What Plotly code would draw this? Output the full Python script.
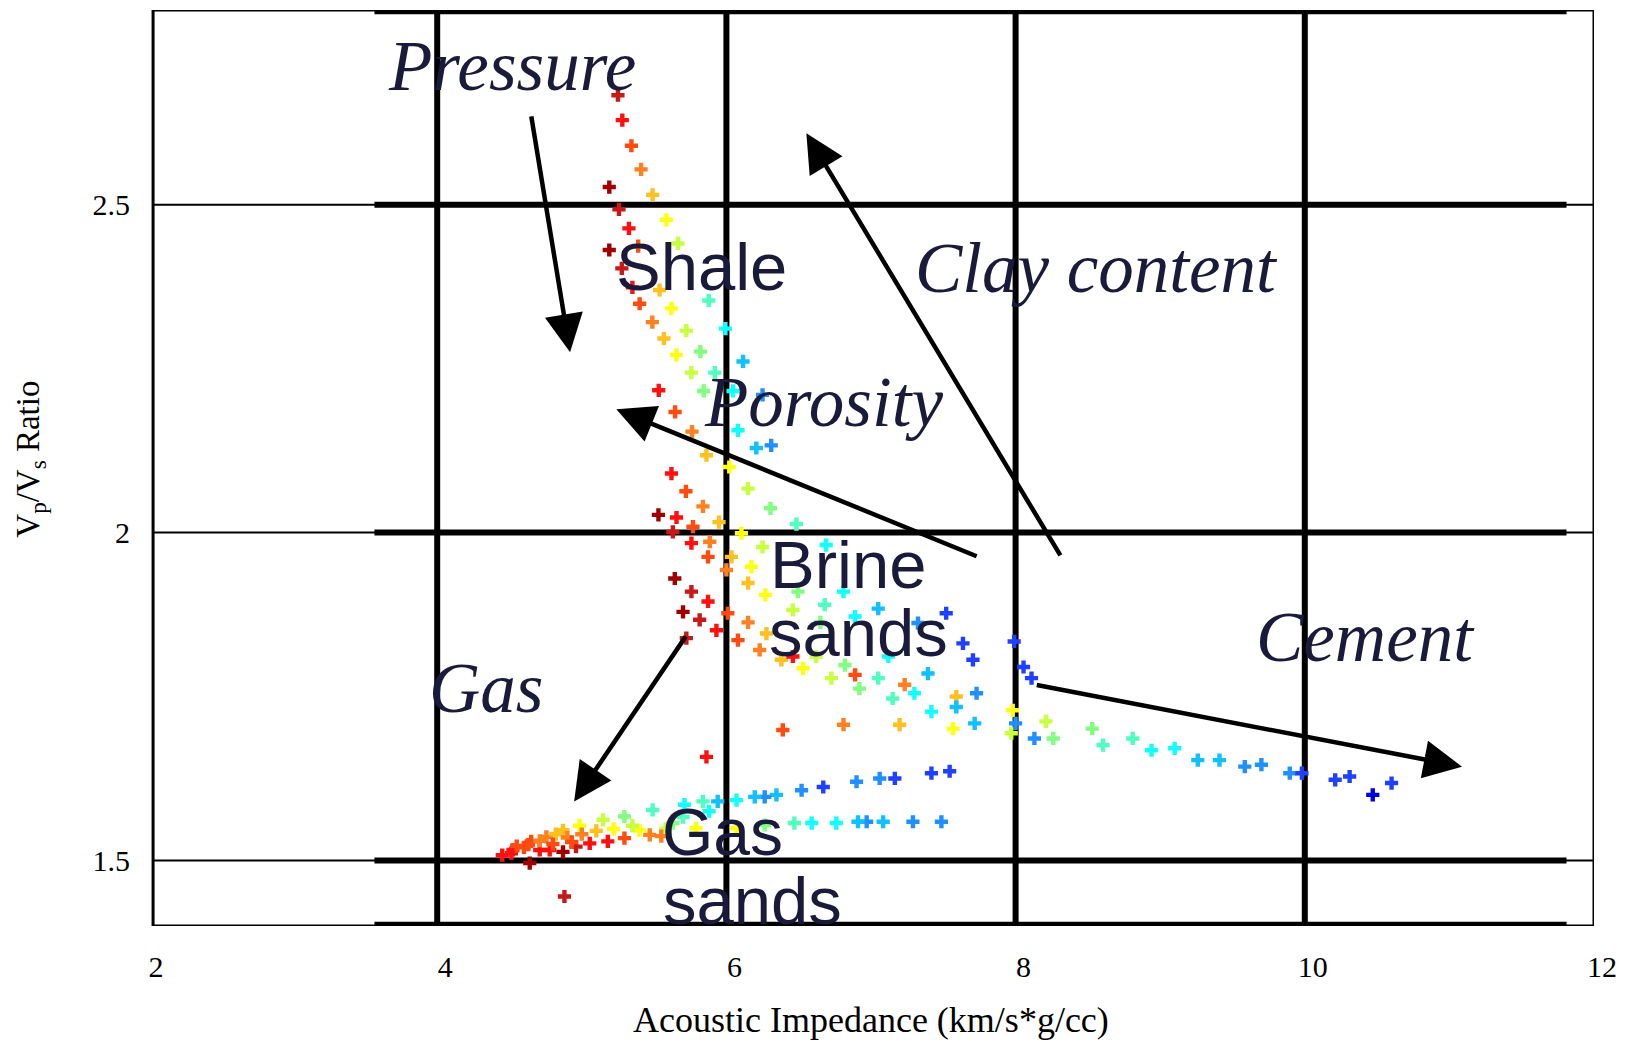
import plotly.graph_objects as go

# ---------------- data ----------------
# Shale trend (upper curve)
shale_x = [5.25, 5.28, 5.343, 5.41, 5.19, 5.49, 5.257, 5.585, 5.326, 5.39, 5.665, 5.19, 5.277, 5.35,
           5.538, 5.878, 5.40, 5.62, 5.488, 5.993, 5.723, 5.568, 5.654, 5.82, 6.115, 5.758, 5.92,
           5.532, 5.843, 6.046, 6.25, 5.645, 5.762, 6.08, 5.862, 6.207, 6.31, 6.02]
shale_y = [2.667, 2.629, 2.590, 2.554, 2.527, 2.515, 2.493, 2.477, 2.464, 2.437, 2.441, 2.431, 2.403, 2.374,
           2.370, 2.354, 2.349, 2.342, 2.321, 2.311, 2.308, 2.296, 2.271, 2.276, 2.261, 2.244, 2.244,
           2.217, 2.216, 2.216, 2.21, 2.184, 2.154, 2.156, 2.118, 2.129, 2.133, 2.10]
shale_c = [1, 2, 3, 4, 0, 5, 1, 6, 2, 3, 7, 0, 1, 2,
           5, 9, 3, 6, 4, 10, 7, 5, 6, 8, 11, 7, 9,
           2, 8, 10, 12, 3, 4, 10, 5, 11, 12, 6]

# Brine sands
brine_x = [5.62, 5.72, 5.838, 5.53, 5.655, 5.949, 6.15, 6.305, 6.484, 5.63, 5.769, 5.758, 5.885, 6.104,
           6.69, 6.25, 5.873, 6.035, 6.173, 6.0, 5.643, 6.15, 5.758, 6.27, 6.495, 6.81, 5.873, 6.46,
           6.68, 7.05, 7.52, 5.70, 6.89, 5.815, 6.01, 6.15, 6.65, 7.325, 5.723, 5.931, 6.08, 6.277,
           7.636, 6.23, 6.38, 6.46, 6.62, 7.12, 7.705, 6.53, 6.82, 6.89, 7.394, 6.726, 7.05, 6.92,
           7.233, 7.30, 7.15, 7.59, 7.73, 7.418, 7.59, 6.39, 6.81, 7.198, 7.567, 7.717, 5.862,
           7.99, 8.055, 8.11, 7.98, 8.0, 8.21, 7.97, 8.13, 8.26, 8.53, 8.605, 8.81, 8.94, 9.10,
           9.26, 9.41, 9.585, 9.70, 9.896, 9.98, 10.21, 10.31, 10.47, 10.60]
brine_y = [2.090, 2.063, 2.040, 2.027, 2.023, 2.016, 2.067, 2.037, 2.013, 2.001, 2.009, 1.984, 1.986, 1.999,
           1.981, 1.978, 1.963, 1.963, 1.948, 1.943, 1.930, 1.923, 1.910, 1.905, 1.910, 1.910, 1.895, 1.882,
           1.890, 1.884, 1.877, 1.879, 1.872, 1.867, 1.877, 1.863, 1.863, 1.862, 1.839, 1.851, 1.836, 1.846,
           1.831, 1.821, 1.806, 1.811, 1.811, 1.811, 1.806, 1.793, 1.798, 1.783, 1.785, 1.778, 1.778, 1.762,
           1.768, 1.755, 1.747, 1.750, 1.755, 1.727, 1.734, 1.699, 1.707, 1.707, 1.701, 1.709, 1.658,
           1.834, 1.795, 1.778, 1.729, 1.709, 1.712, 1.694, 1.686, 1.686, 1.701, 1.676, 1.686, 1.668, 1.671,
           1.653, 1.653, 1.643, 1.646, 1.633, 1.633, 1.623, 1.628, 1.600, 1.618]
brine_c = [2, 3, 4, 0, 2, 5, 7, 8, 9, 1, 3, 2, 4, 6,
           10, 7, 3, 5, 6, 4, 0, 5, 1, 6, 8, 10, 2, 7,
           9, 11, 13, 0, 10, 1, 3, 4, 8, 12, 1, 2, 3, 5,
           13, 4, 5, 2, 7, 10, 13, 6, 8, 3, 11, 7, 9, 8,
           4, 10, 9, 5, 12, 10, 11, 3, 4, 5, 6, 11, 2,
           13, 13, 13, 6, 12, 7, 7, 12, 8, 8, 9, 9, 10, 10,
           11, 11, 12, 12, 12, 13, 13, 13, 14, 13]

# Gas sands
gas_x = [7.544, 7.418, 7.165, 7.06, 6.90, 6.67, 6.52, 6.346, 6.265, 6.196, 6.07, 5.94, 5.838, 5.71,
         5.49, 5.295, 5.147, 4.985, 4.87, 4.755, 4.65, 4.524,
         7.487, 7.29, 7.084, 6.97, 6.91, 6.76, 6.59, 6.47, 6.265, 6.07, 5.79, 5.63, 5.47, 5.40,
         5.295, 5.18, 5.055, 4.96, 4.87, 4.778, 4.709, 4.63, 4.513, 4.64, 4.88,
         4.82, 4.90, 5.0, 5.10, 5.22, 5.35, 4.71, 4.60, 4.55, 4.45, 4.80, 4.93, 5.58, 5.70, 5.88, 5.55]
gas_y = [1.636, 1.633, 1.625, 1.625, 1.620, 1.612, 1.607, 1.600, 1.597, 1.597, 1.592, 1.590, 1.590, 1.585,
         1.577, 1.567, 1.562, 1.553, 1.546, 1.536, 1.529, 1.516,
         1.559, 1.559, 1.559, 1.559, 1.559, 1.557, 1.557, 1.557, 1.554, 1.549, 1.549, 1.557, 1.539, 1.546,
         1.534, 1.529, 1.526, 1.521, 1.513, 1.516, 1.516, 1.524, 1.511, 1.496, 1.445,
         1.540, 1.535, 1.540, 1.545, 1.548, 1.553, 1.530, 1.520, 1.522, 1.508, 1.525, 1.528, 1.548, 1.566, 1.575, 1.537]
gas_c = [13, 13, 13, 12, 12, 13, 12, 11, 12, 11, 10, 11, 9, 10,
         9, 8, 7, 6, 5, 4, 3, 2,
         12, 12, 11, 12, 11, 10, 10, 9, 8, 6, 6, 8, 4, 6,
         3, 2, 2, 1, 0, 2, 2, 3, 2, 0, 1,
         5, 4, 4, 5, 6, 7, 4, 3, 3, 2, 3, 3, 7, 9, 10, 4]

x_ticks = [2, 4, 6, 8, 10, 12]
y_ticks = [1.5, 2, 2.5]
y_ticktext = ["1.5", "2", "2.5"]

# --------------- styling ---------------
level_colors = ["#a00000", "#c81818", "#ff1010", "#ff4a10", "#ff8020", "#ffc020", "#ffff10",
                "#c8ff40", "#80ff80", "#50ffc0", "#10ffff", "#10c0ff", "#2090ff", "#2040ff", "#0000e0"]
cscale = [[i / (len(level_colors) - 1), c] for i, c in enumerate(level_colors)]

fig = go.Figure()
for xs, ys, cs, name in [(shale_x, shale_y, shale_c, "Shale"),
                         (brine_x, brine_y, brine_c, "Brine sands"),
                         (gas_x, gas_y, gas_c, "Gas sands")]:
    fig.add_trace(go.Scatter(
        x=xs, y=ys, mode="markers", name=name, showlegend=False,
        marker=dict(symbol="cross", size=11, color=cs, colorscale=cscale, cmin=0, cmax=14,
                    line=dict(width=0)),
    ))

XMIN, XMAX = 2, 12
YMIN, YMAX = 1.40, 2.797
FRAME_LEFT = 2.035

shapes = []
# thin grid lines across the whole frame
for yv in y_ticks:
    shapes.append(dict(type="line", xref="x", yref="y", x0=FRAME_LEFT, x1=XMAX, y0=yv, y1=yv,
                       line=dict(color="black", width=2), layer="below"))
# frame
shapes.append(dict(type="rect", xref="x", yref="y", x0=FRAME_LEFT, x1=XMAX, y0=YMIN, y1=YMAX,
                   line=dict(color="black", width=3), layer="below"))
# thick grid lines
for yv in [YMAX - 0.002, 2.5, 2.0, 1.5, YMIN + 0.002]:
    shapes.append(dict(type="line", xref="x", yref="y", x0=3.566, x1=11.81, y0=yv, y1=yv,
                       line=dict(color="black", width=6), layer="below"))
for xv in [4, 6, 8, 10]:
    shapes.append(dict(type="line", xref="x", yref="y", x0=xv, x1=xv, y0=YMIN, y1=YMAX,
                       line=dict(color="black", width=6), layer="below"))

txt_col = "#1a1a3a"
serif = "Liberation Serif"
sans = "Liberation Sans"
annotations = []

def label(text, x, y, italic=True, size=71):
    annotations.append(dict(
        x=x, y=y, xref="x", yref="y", showarrow=False,
        text=("<i>%s</i>" % text) if italic else text,
        font=dict(family=serif if italic else sans, size=size, color=txt_col),
        xanchor="center", yanchor="middle"))

label("Pressure", 4.52, 2.711)
label("Shale", 5.83, 2.406, italic=False, size=67)
label("Clay content", 8.56, 2.403)
label("Porosity", 6.67, 2.199)
label("Brine", 6.84, 1.952, italic=False, size=67)
label("sands", 6.915, 1.848, italic=False, size=67)
label("Cement", 10.42, 1.841)
label("Gas", 4.34, 1.763)
label("Gas", 5.97, 1.544, italic=False, size=66)
label("sands", 6.18, 1.439, italic=False, size=67)

def arrow(x0, y0, x1, y1):
    annotations.append(dict(
        x=x1, y=y1, ax=x0, ay=y0, xref="x", yref="y", axref="x", ayref="y",
        showarrow=True, arrowhead=2, arrowsize=1.7, arrowwidth=4.5, arrowcolor="black", text=""))

arrow(4.649, 2.637, 4.919, 2.275)   # pressure
arrow(8.316, 1.963, 6.553, 2.609)   # clay content
arrow(7.741, 1.963, 5.239, 2.188)   # porosity
arrow(5.726, 1.844, 4.947, 1.590)   # gas
arrow(8.136, 1.768, 11.087, 1.643)  # cement

# axis titles
annotations.append(dict(x=0.5, y=-0.1026, xref="paper", yref="paper", showarrow=False,
                        text="Acoustic Impedance (km/s*g/cc)", xanchor="center", yanchor="middle",
                        font=dict(family=serif, size=36, color="black")))
annotations.append(dict(x=-0.081, y=0.51, xref="paper", yref="paper", showarrow=False,
                        text="V<sub>p</sub>/V<sub>s</sub> Ratio", textangle=-90,
                        xanchor="center", yanchor="middle",
                        font=dict(family=serif, size=33, color="black")))

# The page body adds an 8px offset, so margins are reduced accordingly
fig.update_layout(
    width=1632, height=1045,
    margin=dict(l=140, r=46, t=2, b=127),
    paper_bgcolor="white", plot_bgcolor="white",
    shapes=shapes, annotations=annotations,
    xaxis=dict(range=[XMIN, XMAX], tickvals=x_ticks, ticktext=[str(v) for v in x_ticks],
               showgrid=False, zeroline=False, showline=False,
               ticks="", ticklabelstandoff=20, ticklabelshift=8,
               tickfont=dict(family=serif, size=30, color="black")),
    yaxis=dict(range=[YMIN, YMAX], tickvals=y_ticks, ticktext=y_ticktext,
               showgrid=False, zeroline=False, showline=False, ticks="",
               ticklabelstandoff=17,
               tickfont=dict(family=serif, size=30, color="black")),
)

fig.write_html("out.html")
